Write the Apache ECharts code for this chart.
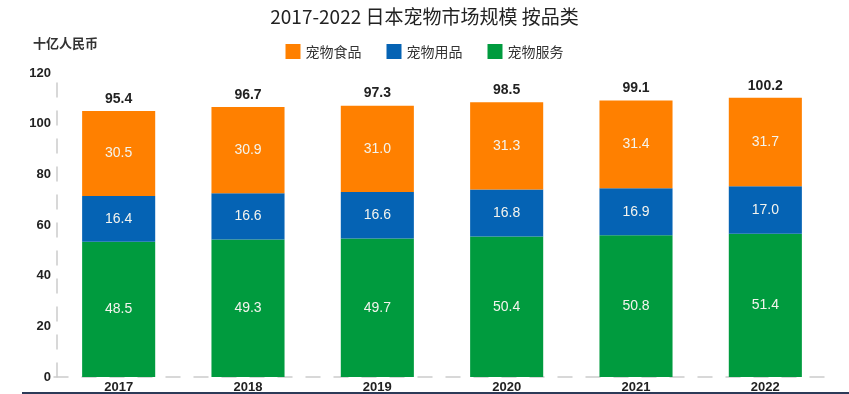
<!DOCTYPE html>
<html>
<head>
<meta charset="utf-8">
<style>html,body{margin:0;padding:0;background:#fff;}#c{width:849px;height:394px;}</style>
<script src="https://cdn.jsdelivr.net/npm/echarts@6/dist/echarts.min.js"></script>
</head>
<body>
<div id="c"></div>
<script>
const years = ['2017','2018','2019','2020','2021','2022'];
const petFood = [30.5, 30.9, 31.0, 31.3, 31.4, 31.7];
const petSupplies = [16.4, 16.6, 16.6, 16.8, 16.9, 17.0];
const petServices = [48.5, 49.3, 49.7, 50.4, 50.8, 51.4];
const totals = [95.4, 96.7, 97.3, 98.5, 99.1, 100.2];
const yTicks = [0, 20, 40, 60, 80, 100, 120];

const FONT = '"Liberation Sans", Arial, "Noto Sans CJK SC", sans-serif';
const CJK = '"Noto Sans CJK SC", sans-serif';
const chart = echarts.init(document.getElementById('c'));
const inLabel = {show: true, position: 'inside', color: '#f4f4ee', fontSize: 14, fontFamily: FONT, formatter: p => p.value.toFixed(1)};
chart.setOption({
  animation: false,
  title: {text: '2017-2022 日本宠物市场规模 按品类', left: 'center', top: 2,
    textStyle: {fontSize: 19, fontWeight: 'normal', color: '#222', fontFamily: CJK}},
  legend: {data: ['宠物食品','宠物用品','宠物服务'], left: 'center', top: 39, itemWidth: 15, itemHeight: 15,
    itemGap: 25, icon: 'rect', textStyle: {fontSize: 14, color: '#333', fontFamily: CJK}},
  graphic: [
    {type: 'text', left: 33, top: 37, style: {text: '十亿人民币', font: 'bold 13px "Noto Sans CJK SC"', fill: '#333'}},
    {type: 'rect', shape: {x: 22, y: 392, width: 827, height: 2}, style: {fill: '#2c3a58'}}
  ],
  grid: {left: 54, right: 19, top: 73, bottom: 15.5},
  xAxis: {type: 'category', data: years,
    axisLine: {show: true, lineStyle: {color: '#cccccc', type: [14, 14], width: 1.5}},
    axisTick: {show: false},
    axisLabel: {color: '#222', fontWeight: 'bold', fontSize: 13, fontFamily: FONT, margin: 4}},
  yAxis: [
    {type: 'value', min: 0, max: 120, interval: 20, offset: -3,
      axisLine: {show: true, lineStyle: {color: '#cccccc', type: [14, 14], width: 1.5}},
      axisTick: {show: false}, splitLine: {show: false},
      axisLabel: {color: '#222', fontWeight: 'bold', fontSize: 13, fontFamily: FONT, margin: 6,
        formatter: v => yTicks.includes(v) ? String(v) : ''}},
    {type: 'value', min: 0, max: 109, show: false}
  ],
  series: [
    {name: '宠物服务', type: 'bar', stack: 't', yAxisIndex: 1, barWidth: '56.5%', data: petServices,
      itemStyle: {color: '#009b3e'}, label: inLabel},
    {name: '宠物用品', type: 'bar', stack: 't', yAxisIndex: 1, data: petSupplies,
      itemStyle: {color: '#0563b4'}, label: inLabel},
    {name: '宠物食品', type: 'bar', stack: 't', yAxisIndex: 1, data: petFood,
      itemStyle: {color: '#ff8000'}, label: inLabel},
    {name: 'total', type: 'bar', stack: 't', yAxisIndex: 1, data: totals.map(() => 0),
      itemStyle: {color: 'transparent'},
      label: {show: true, position: 'top', distance: 5, color: '#222', fontWeight: 'bold', fontSize: 14, fontFamily: FONT,
        formatter: p => totals[p.dataIndex].toFixed(1)}}
  ]
});
</script>
</body>
</html>
